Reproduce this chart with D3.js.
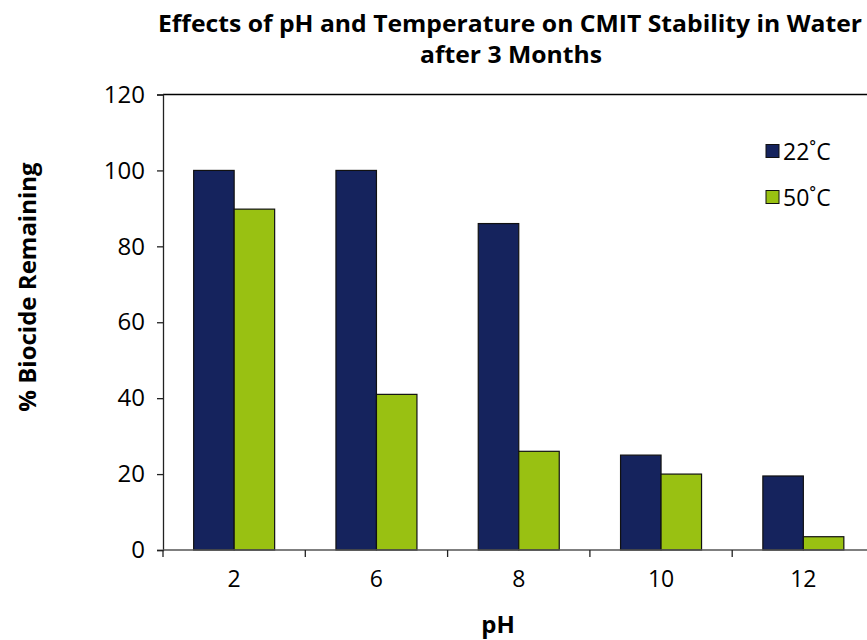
<!DOCTYPE html>
<meta charset="utf-8">
<script src="https://cdn.jsdelivr.net/npm/d3@7/dist/d3.min.js"></script>
<style>
  body { margin: 0; background: #fff; }
  svg { font-family: "Open Sans", "DejaVu Sans", sans-serif; }
</style>
<svg></svg>

<script>
// chart values
var categories = ["2", "6", "8", "10", "12"];
var series = ["22˚C", "50˚C"];
var temp22 = [100, 100, 86, 25, 19.5];
var temp50 = [89.8, 41, 26, 20, 3.5];
var yTicks = [0, 20, 40, 60, 80, 100, 120];
var colors = ["#15235D", "#99C112"];

var SVG_WIDTH = 867,
    SVG_HEIGHT = 640;

var plot = {left: 163, top: 94.5, right: 874.5, bottom: 550};

var svg = d3.select("svg")
            .attr("width", SVG_WIDTH)
            .attr("height", SVG_HEIGHT);

var data = categories.map(function(c, i){
  return {cat: c, values: [temp22[i], temp50[i]]};
});

var x0 = d3.scaleBand()
           .domain(categories)
           .range([plot.left, plot.right])
           .padding(0);

var x1 = d3.scaleBand()
           .domain(series)
           .range([0, x0.bandwidth()])
           .paddingInner(0)
           .paddingOuter(0.757);

var y = d3.scaleLinear()
          .domain([0, 120])
          .range([plot.bottom, plot.top]);

// top border of the plot box
svg.append("line")
   .attr("x1", plot.left).attr("x2", plot.right)
   .attr("y1", plot.top).attr("y2", plot.top)
   .attr("stroke", "#000").attr("stroke-width", 1.3);

// bars
var groups = svg.append("g")
   .selectAll("g")
   .data(data)
   .enter().append("g")
   .attr("transform", function(d){ return "translate(" + x0(d.cat) + ",0)"; });

groups.selectAll("rect")
   .data(function(d){ return d.values.map(function(v, i){ return {key: series[i], value: v, i: i}; }); })
   .enter().append("rect")
   .attr("x", function(d){ return x1(d.key); })
   .attr("width", x1.bandwidth())
   .attr("y", function(d){ return y(d.value); })
   .attr("height", function(d){ return y(0) - y(d.value); })
   .attr("fill", function(d){ return colors[d.i]; })
   .attr("stroke", "#111")
   .attr("stroke-width", 1.2);

// y axis
var yAxis = svg.append("g")
   .attr("transform", "translate(" + plot.left + ",0)")
   .call(d3.axisLeft(y).tickValues(yTicks).tickSize(6).tickPadding(12));

yAxis.select(".domain").attr("stroke", "#222").attr("stroke-width", 1.3);
yAxis.selectAll(".tick line").attr("stroke", "#222").attr("stroke-width", 1.3);
yAxis.selectAll("text")
   .attr("font-size", 24).attr("fill", "#000")
   .attr("font-family", "'Open Sans', sans-serif");

// x axis: ticks sit on category boundaries
var xAxisG = svg.append("g");
xAxisG.append("line")
   .attr("x1", plot.left).attr("x2", plot.right)
   .attr("y1", plot.bottom).attr("y2", plot.bottom)
   .attr("stroke", "#555").attr("stroke-width", 1.3);

var bounds = categories.map(function(c){ return x0(c); }).concat([plot.right]);
xAxisG.selectAll("line.tick")
   .data(bounds)
   .enter().append("line")
   .attr("class", "tick")
   .attr("x1", function(d){ return d; }).attr("x2", function(d){ return d; })
   .attr("y1", plot.bottom).attr("y2", plot.bottom + 7)
   .attr("stroke", "#222").attr("stroke-width", 1.3);

xAxisG.selectAll("text")
   .data(categories)
   .enter().append("text")
   .attr("x", function(d){ return x0(d) + x0.bandwidth() / 2; })
   .attr("y", plot.bottom + 37)
   .attr("text-anchor", "middle")
   .attr("font-size", 23)
   .text(function(d){ return d; });

// titles
svg.append("text")
   .attr("x", 510).attr("y", 32)
   .attr("text-anchor", "middle")
   .attr("font-size", 24).attr("font-weight", "bold")
   .attr("textLength", 704).attr("lengthAdjust", "spacingAndGlyphs")
   .text("Effects of pH and Temperature on CMIT Stability in Water");
svg.append("text")
   .attr("x", 511).attr("y", 63)
   .attr("text-anchor", "middle")
   .attr("font-size", 24).attr("font-weight", "bold")
   .attr("textLength", 182).attr("lengthAdjust", "spacingAndGlyphs")
   .text("after 3 Months");

svg.append("text")
   .attr("transform", "translate(36,287) rotate(-90)")
   .attr("text-anchor", "middle")
   .attr("font-size", 24).attr("font-weight", "bold")
   .text("% Biocide Remaining");

svg.append("text")
   .attr("x", 498).attr("y", 633)
   .attr("text-anchor", "middle")
   .attr("font-size", 24).attr("font-weight", "bold")
   .text("pH");

// legend
var legend = svg.append("g")
   .selectAll("g")
   .data(series)
   .enter().append("g")
   .attr("transform", function(d, i){ return "translate(766," + (151 + i * 46) + ")"; });

legend.append("rect")
   .attr("x", 0).attr("y", -6.5)
   .attr("width", 13).attr("height", 13)
   .attr("fill", function(d, i){ return colors[i]; })
   .attr("stroke", "#111").attr("stroke-width", 1);

legend.append("text")
   .attr("x", 17).attr("y", 8.5)
   .attr("font-size", 23)
   .text(function(d){ return d; });
</script>
